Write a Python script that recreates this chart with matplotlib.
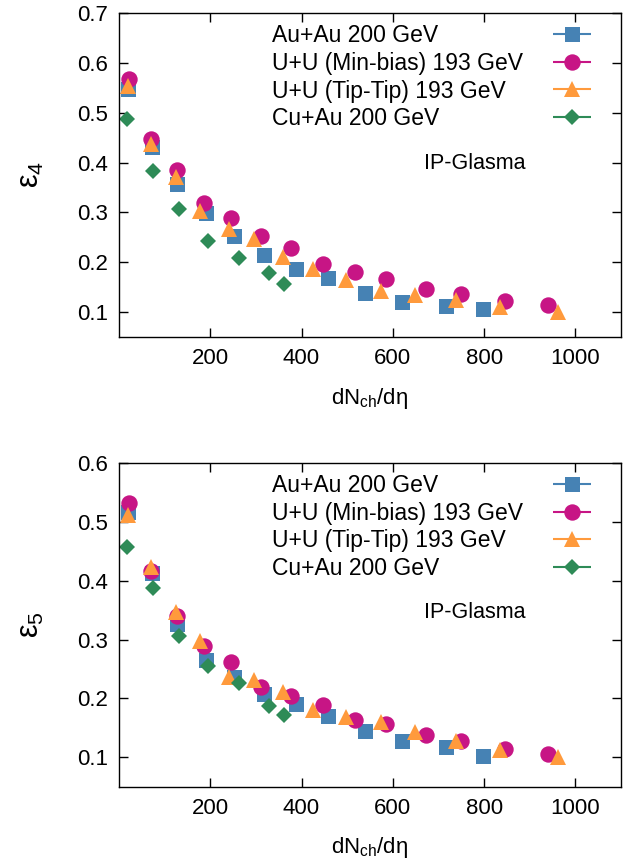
import numpy as np
import matplotlib
matplotlib.use("Agg")
import matplotlib.pyplot as plt
from matplotlib.lines import Line2D
from matplotlib.container import ErrorbarContainer
from matplotlib.legend_handler import HandlerErrorbar

plt.rcParams['font.family'] = ['Liberation Sans', 'DejaVu Sans']
plt.rcParams['mathtext.fontset'] = 'custom'
plt.rcParams['mathtext.rm'] = 'Liberation Sans'
plt.rcParams['mathtext.it'] = 'Liberation Sans'

# dN_ch/deta values for each system
x_auau = [19, 73, 128, 190, 253, 318, 387, 459, 540, 621, 717, 798]
x_uu_mb = [21, 71, 128, 186, 246, 311, 376, 446, 518, 586, 673, 750, 845, 941]
x_uu_tt = [19, 70, 124, 178, 240, 296, 360, 424, 498, 574, 649, 739, 835, 961]
x_cuau = [17, 74, 132, 195, 264, 329, 361]

# eps_4
e4_auau = [0.547, 0.431, 0.356, 0.299, 0.253, 0.215, 0.186, 0.169, 0.138, 0.121, 0.113, 0.107]
e4_uu_mb = [0.567, 0.448, 0.386, 0.318, 0.289, 0.252, 0.228, 0.197, 0.181, 0.167, 0.147, 0.136, 0.123, 0.114]
e4_uu_tt = [0.553, 0.438, 0.371, 0.303, 0.267, 0.246, 0.211, 0.187, 0.164, 0.143, 0.134, 0.124, 0.111, 0.100]
e4_cuau = [0.487, 0.383, 0.306, 0.243, 0.208, 0.179, 0.156]

# eps_5
e5_auau = [0.517, 0.413, 0.326, 0.265, 0.237, 0.207, 0.190, 0.170, 0.144, 0.128, 0.118, 0.102]
e5_uu_mb = [0.532, 0.417, 0.340, 0.289, 0.262, 0.219, 0.204, 0.188, 0.164, 0.156, 0.137, 0.127, 0.114, 0.105]
e5_uu_tt = [0.512, 0.423, 0.346, 0.297, 0.237, 0.231, 0.211, 0.180, 0.169, 0.160, 0.143, 0.128, 0.113, 0.100]
e5_cuau = [0.458, 0.387, 0.306, 0.255, 0.226, 0.187, 0.171]

labels = ["Au+Au 200 GeV", "U+U (Min-bias) 193 GeV",
          "U+U (Tip-Tip) 193 GeV", "Cu+Au 200 GeV"]
colors = ["#4682b4", "#c71585", "#ff9a3c", "#2e8b57"]
markers = ["s", "o", "^", "D"]
msizes = [10.8, 11.8, 11.5, 8.0]

xs = [x_auau, x_uu_mb, x_uu_tt, x_cuau]
panels = [
    ([e4_auau, e4_uu_mb, e4_uu_tt, e4_cuau], r"$\varepsilon_4$", 0.7,
     [0.1, 0.2, 0.3, 0.4, 0.5, 0.6, 0.7]),
    ([e5_auau, e5_uu_mb, e5_uu_tt, e5_cuau], r"$\varepsilon_5$", 0.6,
     [0.1, 0.2, 0.3, 0.4, 0.5, 0.6]),
]

fig = plt.figure(figsize=(6.38, 8.61), dpi=100)
ax_boxes = [[0.1865, 0.6086, 0.7869, 0.3763],
            [0.1865, 0.0863, 0.7869, 0.3760]]

leg_fs = 16.5
hl, htp = 1.7, 0.5

for box, (ys, ylab, ytop, yticks) in zip(ax_boxes, panels):
    ax = fig.add_axes(box)
    handles = []
    for x, y, c, m, ms, lab in zip(xs, ys, colors, markers, msizes, labels):
        ax.plot(x, y, linestyle='none', marker=m, ms=ms, color=c, mew=0)
        # legend sample, gnuplot style with horizontal error bar
        h = ax.errorbar([np.nan], [np.nan], xerr=[0], fmt=m, ms=ms, color=c,
                        mew=0, elinewidth=1.5, capsize=7, capthick=1.5)
        handles.append(h)

    ax.set_xlim(0, 1100)
    ax.set_ylim(0.05, ytop)
    ax.set_xticks([200, 400, 600, 800, 1000])
    ax.set_yticks(yticks)
    ax.tick_params(direction='in', length=6.5, width=1.0, labelsize=16,
                   top=True, right=True, pad=8)
    for s in ax.spines.values():
        s.set_linewidth(1.0)

    ax.set_xlabel(r"dN$_{\rm ch}$/d$\eta$", fontsize=16, labelpad=12)
    ax.set_ylabel(ylab, fontsize=22, labelpad=22)

    ax.text(0.709, 0.537, "IP-Glasma", transform=ax.transAxes, fontsize=15.5,
            ha='center', va='center')

    # gnuplot-like key: left aligned text column, then sample column
    blanks = [Line2D([], [], linestyle='none') for _ in labels]
    shift = (hl + htp) * leg_fs / 72 * 100 / (box[2] * 638)
    ax.legend(handles=blanks + handles, labels=labels + [''] * len(labels),
              ncols=2, loc='upper left', bbox_to_anchor=(0.305 - shift, 0.965),
              frameon=False, fontsize=leg_fs, borderpad=0, borderaxespad=0,
              labelspacing=0.2, handlelength=hl, handletextpad=htp,
              columnspacing=1.3,
              handler_map={ErrorbarContainer: HandlerErrorbar(xerr_size=0.83)})

fig.savefig("out.png", dpi=100)
